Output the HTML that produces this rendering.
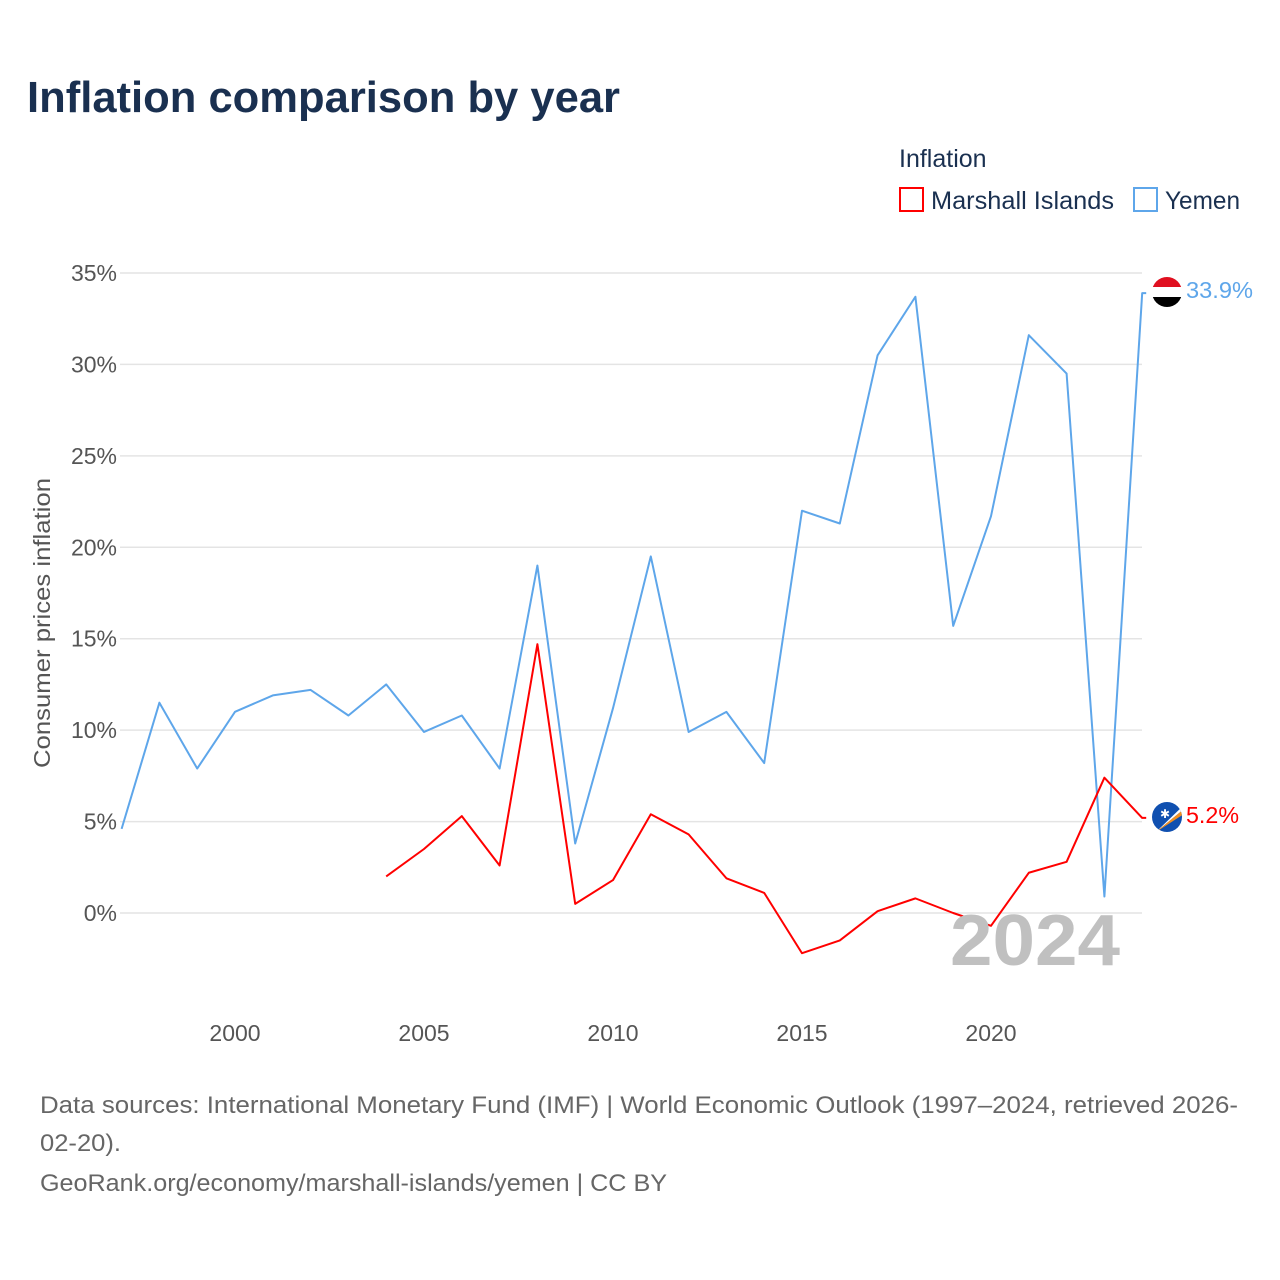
<!DOCTYPE html>
<html><head><meta charset="utf-8"><style>
body{margin:0;background:#fff;font-family:"Liberation Sans",sans-serif;}
#wrap{position:relative;width:1280px;height:1280px;overflow:hidden;}
</style></head><body><div id="wrap">
<svg id="svg" width="1280" height="1280" xmlns="http://www.w3.org/2000/svg">
<text x="27" y="112" font-size="44" font-weight="bold" fill="#1a3050" textLength="593" lengthAdjust="spacingAndGlyphs">Inflation comparison by year</text>
<text x="899" y="167" font-size="25" fill="#1a3050">Inflation</text>
<g><rect x="900" y="188" width="23" height="23" fill="none" stroke="#f00" stroke-width="2"/><text x="931" y="209" font-size="25" fill="#1a3050" textLength="183" lengthAdjust="spacingAndGlyphs">Marshall Islands</text></g>
<g><rect x="1134" y="188" width="23" height="23" fill="none" stroke="#5ea6ea" stroke-width="2"/><text x="1165" y="209" font-size="25" fill="#1a3050" textLength="75" lengthAdjust="spacingAndGlyphs">Yemen</text></g>
<text transform="translate(50,623) rotate(-90)" text-anchor="middle" font-size="23" fill="#555" textLength="290" lengthAdjust="spacingAndGlyphs">Consumer prices inflation</text>
<g id="grid"></g><g id="lines"></g>
<text x="1120" y="965" text-anchor="end" font-size="72" font-weight="bold" fill="#c0c0c0" textLength="170" lengthAdjust="spacingAndGlyphs">2024</text>
<g><clipPath id="c1"><circle cx="1167" cy="292" r="15"/></clipPath><g clip-path="url(#c1)"><rect x="1150" y="275" width="34" height="12" fill="#e01020"/><rect x="1150" y="287" width="34" height="10" fill="#fff"/><rect x="1150" y="297" width="34" height="12" fill="#000"/></g></g>
<g><clipPath id="c2"><circle cx="1167" cy="817" r="15"/></clipPath><g clip-path="url(#c2)"><rect x="1150" y="800" width="34" height="34" fill="#1050b0"/><polygon points="1156,832 1184,805 1184,809" fill="#fff"/><polygon points="1156,832 1184,809 1184,814" fill="#f29020"/><text x="1160" y="818" font-size="12" fill="#fff">✱</text></g></g>
<text x="1186" y="298" font-size="23" fill="#5ea6ea" textLength="67" lengthAdjust="spacingAndGlyphs">33.9%</text>
<text x="1186" y="823" font-size="23" fill="#f00" textLength="53" lengthAdjust="spacingAndGlyphs">5.2%</text>
<text x="40" y="1113" font-size="24" fill="#666" textLength="1198" lengthAdjust="spacingAndGlyphs">Data sources: International Monetary Fund (IMF) | World Economic Outlook (1997–2024, retrieved 2026-</text>
<text x="40" y="1151" font-size="24" fill="#666" textLength="81" lengthAdjust="spacingAndGlyphs">02-20).</text>
<text x="40" y="1191" font-size="24" fill="#666" textLength="627" lengthAdjust="spacingAndGlyphs">GeoRank.org/economy/marshall-islands/yemen | CC BY</text>
</svg></div>
<script>
const yemenYears=[1997,1998,1999,2000,2001,2002,2003,2004,2005,2006,2007,2008,2009,2010,2011,2012,2013,2014,2015,2016,2017,2018,2019,2020,2021,2022,2023,2024];
const yemenValues=[4.6,11.5,7.9,11.0,11.9,12.2,10.8,12.5,9.9,10.8,7.9,19.0,3.8,11.2,19.5,9.9,11.0,8.2,22.0,21.3,30.5,33.7,15.7,21.7,31.6,29.5,0.9,33.9];
const mhlYears=[2004,2005,2006,2007,2008,2009,2010,2011,2012,2013,2014,2015,2016,2017,2018,2019,2020,2021,2022,2023,2024];
const mhlValues=[2.0,3.5,5.3,2.6,14.7,0.5,1.8,5.4,4.3,1.9,1.1,-2.2,-1.5,0.1,0.8,0.0,-0.7,2.2,2.8,7.4,5.2];
const yTicks=[0,5,10,15,20,25,30,35];
const xTicks=[2000,2005,2010,2015,2020];
const NS="http://www.w3.org/2000/svg";
const xs=y=>235+(y-2000)*37.8;
const ys=v=>913-v*18.286;
const grid=document.getElementById('grid'),lines=document.getElementById('lines');
yTicks.forEach(t=>{
 const l=document.createElementNS(NS,'line');
 l.setAttribute('x1',120);l.setAttribute('x2',1142);l.setAttribute('y1',ys(t));l.setAttribute('y2',ys(t));
 l.setAttribute('stroke','#e4e4e4');l.setAttribute('stroke-width','1.5');
 
 
 grid.appendChild(l);
 const tx=document.createElementNS(NS,'text');
 tx.setAttribute('x',117);tx.setAttribute('y',ys(t)+8);tx.setAttribute('text-anchor','end');
 tx.setAttribute('font-size','23');tx.setAttribute('fill','#555');tx.textContent=t+'%';
 
 
 grid.appendChild(tx);
});
xTicks.forEach(t=>{
 const tx=document.createElementNS(NS,'text');
 tx.setAttribute('x',xs(t));tx.setAttribute('y',1041);tx.setAttribute('text-anchor','middle');
 tx.setAttribute('font-size','23');tx.setAttribute('fill','#555');tx.textContent=t;
 
 
 grid.appendChild(tx);
});
function line(years,vals,color,name){
 const pts=years.map((y,i)=>xs(y)+','+ys(vals[i]));
 pts.push((xs(years[years.length-1])+4)+','+ys(vals[vals.length-1]));
 const p=document.createElementNS(NS,'polyline');
 p.setAttribute('points',pts.join(' '));p.setAttribute('fill','none');
 p.setAttribute('stroke',color);p.setAttribute('stroke-width','2');p.setAttribute('stroke-linejoin','round');
 
 
 lines.appendChild(p);
}
line(yemenYears,yemenValues,'#5ea6ea','yemen-line');
line(mhlYears,mhlValues,'#f00','marshall-islands-line');
</script></body></html>
